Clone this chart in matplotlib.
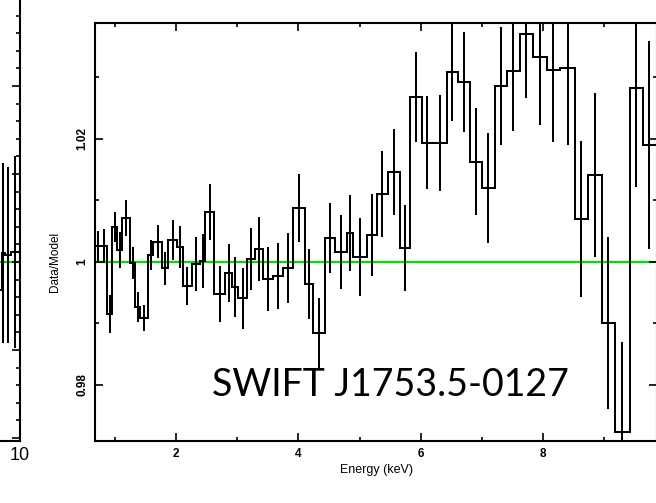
import matplotlib
matplotlib.use("Agg")
import matplotlib.pyplot as plt
from matplotlib.transforms import Affine2D
from matplotlib.ticker import MultipleLocator, FixedLocator

# ---------------------------------------------------------------------------
# Data/Model ratio of the binned spectrum (energy in keV)
energy_edges = [0.676, 0.758, 0.873, 0.954, 1.036, 1.118, 1.248, 1.330, 1.412,
                1.542, 1.624, 1.771, 1.869, 2.016, 2.114, 2.261, 2.392, 2.474,
                2.621, 2.801, 2.915, 3.013, 3.160, 3.291, 3.422, 3.585, 3.748,
                3.912, 4.108, 4.239, 4.435, 4.598, 4.794, 4.892, 5.121, 5.284,
                5.464, 5.660, 5.824, 6.020, 6.199, 6.428, 6.608, 6.804, 7.000,
                7.212, 7.408, 7.621, 7.833, 8.062, 8.275, 8.520, 8.732, 8.961,
                9.173, 9.418, 9.631, 9.843]
ratio = [1.0026, 1.0026, 0.9915, 1.0057, 1.0020, 1.0072, 0.9998, 0.9927,
         0.9909, 1.0011, 1.0033, 0.9990, 1.0036, 1.0024, 0.9961, 0.9997,
         1.0002, 1.0081, 0.9948, 0.9982, 0.9959, 0.9941, 1.0005, 1.0021,
         0.9972, 0.9977, 0.9990, 1.0088, 0.9964, 0.9885, 1.0039, 1.0016,
         1.0047, 1.0008, 1.0044, 1.0111, 1.0146, 1.0023, 1.0268, 1.0194,
         1.0194, 1.0309, 1.0293, 1.0163, 1.0120, 1.0286, 1.0311, 1.0371,
         1.0333, 1.0312, 1.0315, 1.0070, 1.0141, 0.9901, 0.9724, 1.0283,
         1.0190]
ratio_err = [0.0024, 0.0028, 0.0031, 0.0024, 0.0029, 0.0029, 0.0026, 0.0024,
             0.0021, 0.0024, 0.0027, 0.0027, 0.0033, 0.0034, 0.0031, 0.0044,
             0.0044, 0.0046, 0.0046, 0.0047, 0.0049, 0.0050, 0.0050, 0.0052,
             0.0052, 0.0054, 0.0057, 0.0055, 0.0057, 0.0057, 0.0057, 0.0060,
             0.0062, 0.0063, 0.0067, 0.0070, 0.0070, 0.0070, 0.0073, 0.0076,
             0.0078, 0.0080, 0.0081, 0.0087, 0.0089, 0.0096, 0.0098, 0.0104,
             0.0111, 0.0117, 0.0125, 0.0127, 0.0133, 0.0140, 0.0146, 0.0161,
             0.0169]

# Neighbouring panel: only its high-energy end falls inside the frame
side_edges = [9.326, 9.494, 9.579, 9.747, 9.972]
side_ratio = [0.9841, 1.0051, 1.0040, 1.0057]
side_err = [0.0438, 0.0511, 0.0500, 0.0545]

x_major = [2, 4, 6, 8]
y_major = [0.98, 1.00, 1.02]
y_major_labels = ["0.98", "1", "1.02"]
source_name = "SWIFT J1753.5-0127"

W, H, DPI = 656, 503, 100
GREEN = "#00e000"
LW = 1.45
TICK_FONT = "Liberation Sans"


def frac(left, top, right, bottom):
    """Axes rectangle from pixel bounds (origin at top-left)."""
    return [left / W, (H - bottom) / H, (right - left) / W, (bottom - top) / H]


def style(ax):
    for s in ax.spines.values():
        s.set_linewidth(1.5)
    ax.tick_params(which="both", direction="in", top=True, right=True,
                   width=1.2, colors="black")
    ax.tick_params(which="major", length=5.5)
    ax.tick_params(which="minor", length=3)


fig = plt.figure(figsize=(W / DPI, H / DPI), dpi=DPI)

# --- neighbouring panel (mostly outside the frame) -------------------------
side = fig.add_axes(frac(-300, -20, 20, 441))
style(side)
side.set_xlim(1.011, 10.0)
side.set_ylim(0.8983, 1.1602)
side.axhline(1.0, color=GREEN, lw=1.6, zorder=1)
side.stairs(side_ratio, side_edges, baseline=None, color="black", lw=LW,
            zorder=3)
side_centers = [(a + b) / 2 for a, b in zip(side_edges[:-1], side_edges[1:])]
side.errorbar(side_centers, side_ratio, yerr=side_err, fmt="none",
              ecolor="black", elinewidth=LW, capsize=0, zorder=3)
side.xaxis.set_major_locator(FixedLocator([10]))
side.xaxis.set_minor_locator(MultipleLocator(1))
side.yaxis.set_major_locator(MultipleLocator(0.05))
side.yaxis.set_minor_locator(MultipleLocator(0.01))
side.set_yticklabels([])
side.set_xticklabels(["10"], fontsize=13, family=TICK_FONT)
side.tick_params(axis="x", which="major", pad=4)

# --- main panel --------------------------------------------------------------
ax = fig.add_axes(frac(95, 23, 657, 441))
style(ax)
ax.set_xlim(0.676, 9.86)
ax.set_ylim(0.97089, 1.03886)
ax.axhline(1.0, color=GREEN, lw=1.6, zorder=1)

ax.stairs(ratio, energy_edges, baseline=None, color="black", lw=LW, zorder=3)
centers = [(a + b) / 2 for a, b in zip(energy_edges[:-1], energy_edges[1:])]
ax.errorbar(centers, ratio, yerr=ratio_err, fmt="none", ecolor="black",
            elinewidth=LW, capsize=0, zorder=3)

ax.xaxis.set_major_locator(FixedLocator(x_major))
ax.xaxis.set_minor_locator(MultipleLocator(1))
ax.yaxis.set_major_locator(FixedLocator(y_major))
ax.yaxis.set_minor_locator(MultipleLocator(0.01))
ax.set_xticklabels([str(v) for v in x_major], fontsize=8.5, family=TICK_FONT,
                   fontweight="bold")
ax.set_yticklabels(y_major_labels, fontsize=8.5, family=TICK_FONT,
                   fontweight="bold", rotation=90, va="center")
ax.tick_params(axis="x", which="major", pad=5)
ax.tick_params(axis="y", which="major", pad=5)

ax.set_xlabel("Energy (keV)", fontsize=9, family=TICK_FONT)
ax.xaxis.set_label_coords((377 - 95) / 562, -(470 - 441) / 418,
                          transform=ax.transAxes)
ax.xaxis.label.set_va("center")
ax.set_ylabel("Data/Model", fontsize=8.5, family=TICK_FONT)
ax.yaxis.set_label_coords(-(95 - 55) / 562, (441 - 262) / 418,
                          transform=ax.transAxes)
ax.yaxis.label.set_va("center")

# source name, positioned in pixels measured from the top-left corner
fig.text(212, 396, source_name, fontsize=27, family="Lato", color="black",
         ha="left", va="baseline",
         transform=Affine2D().scale(1, -1).translate(0, H))

fig.savefig("out.png", dpi=DPI)
